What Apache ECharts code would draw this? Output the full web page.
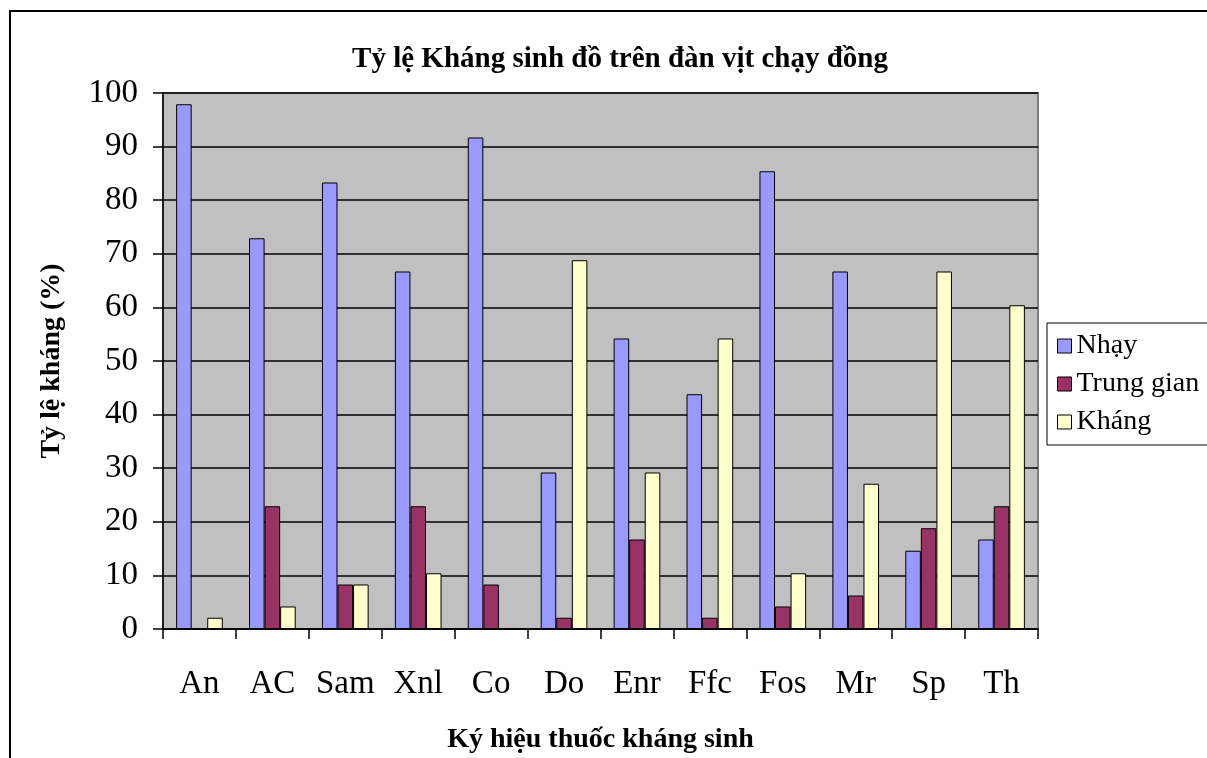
<!DOCTYPE html>
<html><head><meta charset="utf-8">
<script src="https://cdn.jsdelivr.net/npm/echarts@6/dist/echarts.min.js"></script>
<style>html,body{margin:0;padding:0;background:#fff}#c{width:1207px;height:758px}</style>
</head><body><div id="c"></div>
<script>
const categories = ['An','AC','Sam','Xnl','Co','Do','Enr','Ffc','Fos','Mr','Sp','Th'];
const nhay      = [97.9, 72.9, 83.3, 66.7, 91.7, 29.2, 54.2, 43.8, 85.4, 66.7, 14.6, 16.7];
const trungGian = [0,    22.9, 8.3,  22.9, 8.3,  2.1,  16.7, 2.1,  4.2,  6.25, 18.8, 22.9];
const khang     = [2.1,  4.2,  8.3,  10.4, 0,    68.8, 29.2, 54.2, 10.4, 27.1, 66.7, 60.4];
const yTicks = [0,10,20,30,40,50,60,70,80,90,100];

const font = 'Liberation Serif, Times New Roman, serif';
const chart = echarts.init(document.getElementById('c'));
const barStyle = c => ({color: c, borderColor: '#000', borderWidth: 1});
chart.setOption({
  animation: false,
  backgroundColor: '#fff',
  title: {
    text: 'Tỷ lệ Kháng sinh đồ trên đàn vịt chạy đồng',
    left: 615, top: 40, textAlign: 'center',
    textStyle: {fontFamily: font, fontSize: 29, fontWeight: 'bold', color: '#000'}
  },
  legend: {
    orient: 'vertical', left: 1047, top: 323,
    data: ['Nhạy','Trung gian','Kháng'],
    itemWidth: 14, itemHeight: 14, itemGap: 10,
    padding: [9, 30, 9, 10],
    borderColor: '#000', borderWidth: 1, backgroundColor: '#fff',
    textStyle: {fontFamily: font, fontSize: 28, color: '#000'},
    icon: 'rect',
    itemStyle: {borderColor: '#000', borderWidth: 1}
  },
  grid: {left: 163, top: 93, width: 875, height: 536, show: true, containLabel: false,
         outerBoundsMode: 'none',
         backgroundColor: '#C0C0C0', borderColor: '#808080', borderWidth: 2},
  xAxis: {
    type: 'category', data: categories,
    name: 'Ký hiệu thuốc kháng sinh', nameLocation: 'middle', nameGap: 97,
    nameTextStyle: {fontFamily: font, fontSize: 28, fontWeight: 'bold', color: '#000'},
    axisLine: {lineStyle: {color: '#000', width: 1.5}},
    axisTick: {show: true, interval: 0, length: 10, lineStyle: {color: '#000', width: 1.5}},
    axisLabel: {interval: 0, fontFamily: font, fontSize: 33, color: '#000', margin: 39}
  },
  yAxis: {
    type: 'value', min: 0, max: 100, interval: 10,
    name: 'Tỷ lệ kháng (%)', nameLocation: 'middle', nameGap: 97,
    nameTextStyle: {fontFamily: font, fontSize: 28, fontWeight: 'bold', color: '#000'},
    axisLine: {show: true, lineStyle: {color: '#000', width: 1.5}},
    axisTick: {show: true, length: 10, lineStyle: {color: '#000', width: 1.5}},
    axisLabel: {fontFamily: font, fontSize: 33, color: '#000', margin: 25,
      formatter: v => yTicks.includes(v) ? String(v) : ''},
    splitLine: {lineStyle: {color: '#000', width: 1.5}}
  },
  series: [
    {name: 'Nhạy', type: 'bar', data: nhay, barGap: '0%', barCategoryGap: '36%', itemStyle: barStyle('#9999FF')},
    {name: 'Trung gian', type: 'bar', data: trungGian, itemStyle: barStyle('#993366')},
    {name: 'Kháng', type: 'bar', data: khang, itemStyle: barStyle('#FFFFCC')}
  ],
  graphic: [{type: 'rect', shape: {x: 10, y: 11, width: 1300, height: 800},
    style: {fill: 'none', stroke: '#000', lineWidth: 2}, silent: true, z: 100}]
});
</script></body></html>
